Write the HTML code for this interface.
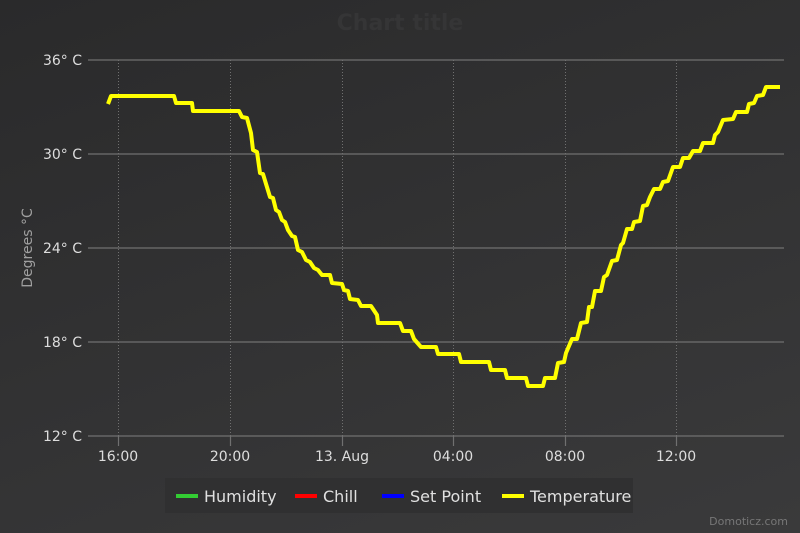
<!DOCTYPE html>
<html><head><meta charset="utf-8"><style>
html,body{margin:0;padding:0}
body{width:800px;height:533px;overflow:hidden;background:linear-gradient(160deg,#2a2a2b 0%,#323233 50%,#3a3a3b 100%);font-family:"Liberation Sans","DejaVu Sans",sans-serif}
</style></head><body>
<svg width="800" height="533" xmlns="http://www.w3.org/2000/svg" style="position:absolute;left:0;top:0;font-family:'DejaVu Sans','Liberation Sans',sans-serif">
<text x="400" y="30" text-anchor="middle" font-size="22" font-weight="bold" fill="#353536">Chart title</text>
<g stroke="#707070" stroke-width="1" stroke-dasharray="1,2">
<line x1="118.5" y1="60" x2="118.5" y2="436"/><line x1="230.5" y1="60" x2="230.5" y2="436"/>
<line x1="342.5" y1="60" x2="342.5" y2="436"/><line x1="453.5" y1="60" x2="453.5" y2="436"/>
<line x1="565.5" y1="60" x2="565.5" y2="436"/><line x1="676.5" y1="60" x2="676.5" y2="436"/>
</g>
<g stroke="#707070" stroke-width="1.2">
<line x1="88" y1="60" x2="784" y2="60"/><line x1="88" y1="154" x2="784" y2="154"/>
<line x1="88" y1="248" x2="784" y2="248"/><line x1="88" y1="342" x2="784" y2="342"/>
<line x1="88" y1="436" x2="784" y2="436"/>
<line x1="118.5" y1="436" x2="118.5" y2="446"/><line x1="230.5" y1="436" x2="230.5" y2="446"/>
<line x1="342.5" y1="436" x2="342.5" y2="446"/><line x1="453.5" y1="436" x2="453.5" y2="446"/>
<line x1="565.5" y1="436" x2="565.5" y2="446"/><line x1="676.5" y1="436" x2="676.5" y2="446"/>
</g>
<g fill="#dddddd" font-size="14" text-anchor="end">
<text x="82" y="65">36° C</text><text x="82" y="159">30° C</text><text x="82" y="253">24° C</text>
<text x="82" y="347">18° C</text><text x="82" y="441">12° C</text>
</g>
<g fill="#dddddd" font-size="14" text-anchor="middle">
<text x="118" y="461">16:00</text><text x="230" y="461">20:00</text><text x="342" y="461">13. Aug</text>
<text x="453" y="461">04:00</text><text x="565" y="461">08:00</text><text x="676" y="461">12:00</text>
</g>
<text transform="translate(32,248) rotate(-90)" text-anchor="middle" font-size="14" fill="#a0a0a0">Degrees °C</text>
<polyline fill="none" stroke="#ffff00" stroke-width="4" stroke-linejoin="round" points="
108,104 111,96 174,96 176,103 192,103 193,111 239,111 242,117 247,118 251,133 253,150 257,152 260,173 263,174 270,197 273,198 276,210 279,212 282,220 285,222 288,230 292,236 295,237 298,250 302,252 306,260 310,262 314,268 318,270 322,275 330,275 332,283 342,284 344,290 348,291 350,299 358,300 361,306 371,306 377,315 378,323 400,323 403,331 411,331 414,339 421,347 436,347 438,354 459,354 461,362 489,362 491,370 505,370 507,378 526,378 528,386 543,386 545,378 555,378 558,363 564,362 566,353 572,339 577,339 581,323 587,322 589,307 592,307 595,291 601,291 604,277 607,275 612,261 617,260 621,245 623,243 627,229 632,229 634,222 640,221 643,206 647,205 650,197 654,189 660,189 663,182 668,181 673,167 680,167 683,158 689,158 693,151 700,151 703,143 713,143 715,135 718,132 723,120 733,119 736,112 747,112 749,104 754,103 757,96 763,95 766,87 780,87"/>
<rect x="165" y="478" width="468" height="35" fill="#303031"/>
<g font-size="16" fill="#e0e0e0">
<rect x="176" y="494" width="22" height="4" fill="#33cc33"/><text x="204" y="502">Humidity</text>
<rect x="295" y="494" width="22" height="4" fill="#ff0000"/><text x="323" y="502">Chill</text>
<rect x="382" y="494" width="22" height="4" fill="#0000ff"/><text x="410" y="502">Set Point</text>
<rect x="502" y="494" width="22" height="4" fill="#ffff00"/><text x="530" y="502">Temperature</text>
</g>
<text x="788" y="525" text-anchor="end" font-size="11" fill="#777">Domoticz.com</text>
</svg>
</body></html>
